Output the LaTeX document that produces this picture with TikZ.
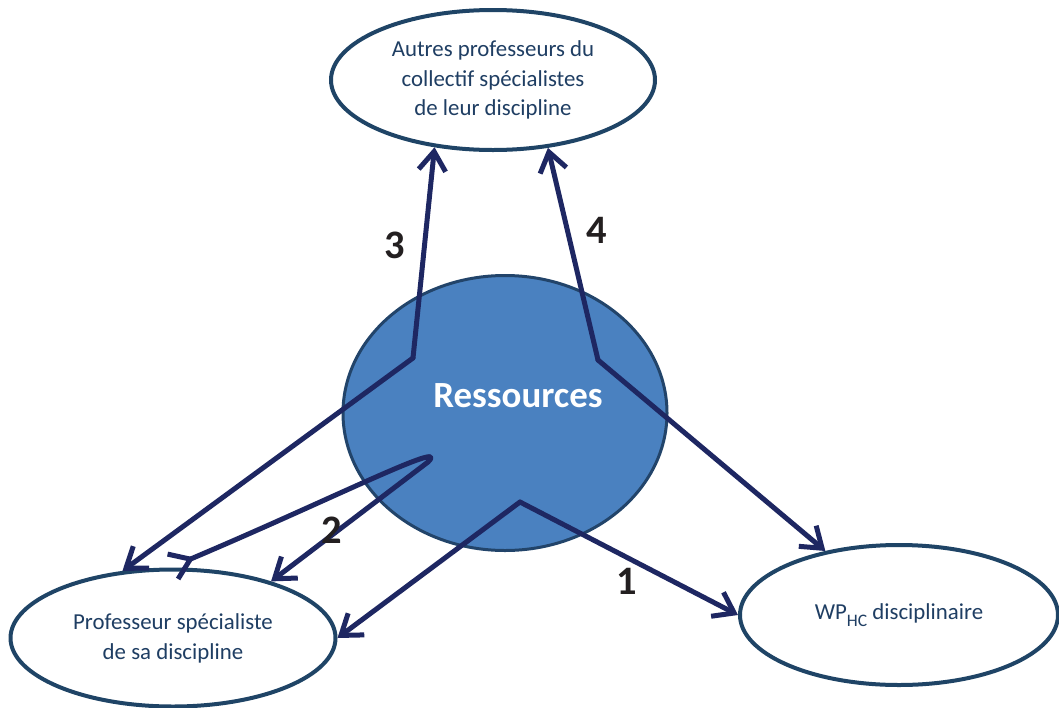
\documentclass[tikz,border=0pt]{standalone}
\usepackage{fontspec}
\setmainfont{Carlito}
\usetikzlibrary{arrows.meta,shapes.geometric}
\definecolor{txtblue}{HTML}{1F3E63}
\definecolor{rimblue}{HTML}{1F4466}
\definecolor{resblue}{HTML}{4A81C0}
\definecolor{resrim}{HTML}{22446A}
\definecolor{arrnavy}{HTML}{1E2762}
\definecolor{numblack}{HTML}{231F20}
\begin{document}
\begin{tikzpicture}[x=0.2mm,y=-0.2mm,line join=round,line cap=round,
	>={Straight Barb[length=3.8mm,width=5.4mm]},
	acteur/.style={ellipse,draw=rimblue,line width=0.8mm,fill=white,inner sep=0pt,
		text=txtblue,font=\fontsize{13}{17}\selectfont,align=center},
	fleche/.style={draw=arrnavy,line width=1mm},
	numero/.style={text=numblack,font=\fontsize{23}{23}\selectfont\bfseries}]
	\useasboundingbox (0,0) rectangle (1059,708);
	% noeuds
	\node[acteur,minimum width=64.8mm,minimum height=28mm] (autres) at (493,80)
		{Autres professeurs du\\collectif spécialistes\\de leur discipline};
	\node[ellipse,draw=resrim,line width=0.6mm,fill=resblue,minimum width=64.8mm,
		minimum height=55mm] (res) at (505,413) {};
	\node[text=white,font=\fontsize{21}{21}\selectfont\bfseries] (restxt) at (518,396) {Ressources};
	\node[acteur,minimum width=65mm,minimum height=27.4mm] (prof) at (173,638)
		{Professeur spécialiste\\de sa discipline};
	\node[acteur,minimum width=63.6mm,minimum height=28mm] (wp) at (899,615)
		{WP\raisebox{-1.3mm}{\fontsize{10}{10}\selectfont HC} disciplinaire};
	% points de depart
	\coordinate (b3) at (413,358);
	\coordinate (b4) at (598,360);
	\coordinate (b1) at (520,502);
	% fleches
	\draw[fleche,->] (b3) -- (autres.-131);
	\draw[fleche,->] (b4) -- (autres.-51);
	\draw[fleche,->] (b3) -- (prof.127);
	\draw[fleche,->] (b4) -- (wp.139);
	\draw[fleche,->] (b1) -- (wp.west);
	\draw[fleche,->] (b1) -- (prof.east);
	\draw[fleche,>->] (prof.92) .. controls (330,500) and (452,438) .. (428,462) -- (prof.30);
	% numeros
	\node[numero] (n1) at (627,581) {1};
	\node[numero] (n2) at (332,530) {2};
	\node[numero] (n3) at (395,245) {3};
	\node[numero] (n4) at (597,230) {4};
\end{tikzpicture}
\end{document}
